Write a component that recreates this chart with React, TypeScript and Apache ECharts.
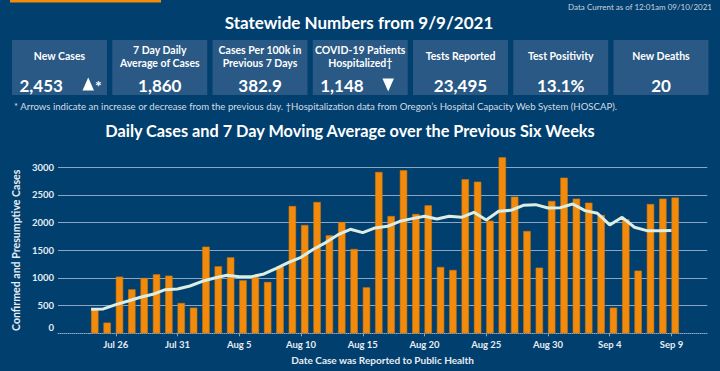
import React, { useEffect, useRef } from 'react';
import * as echarts from 'echarts';

const dates = [
  'Jul 24', 'Jul 25', 'Jul 26', 'Jul 27', 'Jul 28', 'Jul 29', 'Jul 30', 'Jul 31',
  'Aug 1', 'Aug 2', 'Aug 3', 'Aug 4', 'Aug 5', 'Aug 6', 'Aug 7', 'Aug 8', 'Aug 9', 'Aug 10',
  'Aug 11', 'Aug 12', 'Aug 13', 'Aug 14', 'Aug 15', 'Aug 16', 'Aug 17', 'Aug 18', 'Aug 19', 'Aug 20',
  'Aug 21', 'Aug 22', 'Aug 23', 'Aug 24', 'Aug 25', 'Aug 26', 'Aug 27', 'Aug 28', 'Aug 29', 'Aug 30', 'Aug 31',
  'Sep 1', 'Sep 2', 'Sep 3', 'Sep 4', 'Sep 5', 'Sep 6', 'Sep 7', 'Sep 8', 'Sep 9',
];

const dailyCases = [
  440, 193, 1024, 795, 1000, 1066, 1042, 548,
  464, 1566, 1211, 1373, 958, 1018, 928, 1205, 2301, 1958,
  2373, 1771, 2012, 1524, 831, 2916, 2120, 2946, 2157, 2313,
  1199, 1145, 2783, 2741, 2036, 3181, 2470, 1849, 1187, 2392, 2813,
  2434, 2361, 2139, 464, 2060, 1133, 2337, 2434, 2453,
];

const movingAvg = [
  434, 440, 518, 584, 651, 705, 789, 801,
  855, 940, 1000, 1048, 1024, 1024, 1072, 1175, 1283, 1373,
  1518, 1639, 1783, 1880, 1819, 1904, 1934, 2024, 2072, 2114,
  2066, 2114, 2096, 2187, 2048, 2205, 2223, 2313, 2325, 2265, 2271,
  2337, 2217, 2169, 1958, 2096, 1916, 1855, 1855, 1860,
];

const tickDates = ['Jul 26', 'Jul 31', 'Aug 5', 'Aug 10', 'Aug 15', 'Aug 20', 'Aug 25', 'Aug 30', 'Sep 4', 'Sep 9'];

const statTitles = [
  'New Cases',
  '7 Day Daily\nAverage of Cases',
  'Cases Per 100k in\nPrevious 7 Days',
  'COVID-19 Patients\nHospitalized†',
  'Tests Reported',
  'Test Positivity',
  'New Deaths',
];
const statValues = ['2,453', '1,860', '382.9', '1,148', '23,495', '13.1%', '20'];
const statTrends = ['up', '', '', 'down', '', '', ''];

const mainTitle = 'Statewide Numbers from 9/9/2021';
const dataCurrent = 'Data Current as of 12:01am 09/10/2021';
const footnote = '* Arrows indicate an increase or decrease from the previous day. †Hospitalization data from Oregon’s Hospital Capacity Web System (HOSCAP).';
const chartTitle = 'Daily Cases and 7 Day Moving Average over the Previous Six Weeks';
const yTitle = 'Confirmed and Presumptive Cases';
const xTitle = 'Date Case was Reported to Public Health';

const BG = '#013F6E';
const BOX = '#2A5985';
const ORANGE = '#F28B0C';
const FONT = 'Lato';
const LABEL = '#E6EDF4';

export default function App() {
  const ref = useRef<HTMLDivElement>(null);

  useEffect(() => {
    document.body.style.margin = '0';
    const chart = echarts.init(ref.current as HTMLDivElement, null, { renderer: 'svg' });

    const txt = (
      x: number, y: number, text: string, size: number, weight: string | number,
      fill: string, align = 'center', va = 'middle', lineHeight?: number,
    ) => ({
      type: 'text', x, y, silent: true,
      style: {
        text, fill, fontSize: size, fontWeight: weight, fontFamily: FONT,
        align, verticalAlign: va, textAlign: align, textVerticalAlign: va,
        lineHeight,
      },
    });

    const graphic: any[] = [];
    graphic.push({ type: 'rect', silent: true, shape: { x: 10, y: 0, width: 151, height: 2.4 }, style: { fill: ORANGE } });
    graphic.push(txt(712, 7, dataCurrent, 8, 'normal', '#C9D4DF', 'right'));
    graphic.push(txt(359, 22.5, mainTitle, 17, 'bold', '#FFFFFF'));

    statTitles.forEach((t, i) => {
      const bx = 12 + i * 100.25;
      graphic.push({ type: 'rect', silent: true, shape: { x: bx, y: 40, width: 95, height: 55 }, style: { fill: BOX } });
      graphic.push(txt(bx + 47.5, 56.3, t, 10.5, 'bold', '#FFFFFF', 'center', 'middle', 12.5));
      const trend = statTrends[i];
      if (trend) {
        graphic.push(txt(bx + 7.5, 85, statValues[i], 17, 'bold', '#FFFFFF', 'left'));
        if (trend === 'up') {
          graphic.push({ type: 'polygon', silent: true, shape: { points: [[bx + 70.5, 90.6], [bx + 82, 90.6], [bx + 76.25, 77.4]] }, style: { fill: '#FFFFFF' } });
          graphic.push(txt(bx + 83, 85, '*', 16, 'bold', '#FFFFFF', 'left'));
        } else {
          graphic.push({ type: 'polygon', silent: true, shape: { points: [[bx + 69.7, 78.4], [bx + 81.2, 78.4], [bx + 75.45, 91.6]] }, style: { fill: '#FFFFFF' } });
        }
      } else {
        graphic.push(txt(bx + 47.5, 85, statValues[i], 17, 'bold', '#FFFFFF'));
      }
    });

    graphic.push(txt(14, 106.5, footnote, 9.6, 'normal', '#D3DCE5', 'left'));
    graphic.push(txt(350, 130.5, chartTitle, 16.3, 'bold', '#FFFFFF'));

    const tickIdx = tickDates.map((d) => dates.indexOf(d));

    const option: any = {
      animation: false,
      backgroundColor: BG,
      grid: { left: 58, right: 12.7, top: 167.3, bottom: 37.7, containLabel: false },
      xAxis: {
        type: 'value',
        min: -2.68,
        max: 49.9,
        name: xTitle,
        nameLocation: 'middle',
        nameGap: 22,
        nameTextStyle: { color: LABEL, fontWeight: 'bold', fontSize: 10, fontFamily: FONT },
        axisLine: { show: true, lineStyle: { color: '#8FA6BE', type: 'dotted', width: 1 } },
        axisTick: { show: true, customValues: tickIdx, length: 3, lineStyle: { color: '#8FA6BE' } },
        axisLabel: {
          customValues: tickIdx,
          formatter: (v: number) => dates[Math.round(v)] ?? '',
          color: LABEL, fontWeight: 'bold', fontSize: 9.5, fontFamily: FONT, margin: 6,
        },
        splitLine: { show: false },
      },
      yAxis: {
        type: 'value',
        min: 0,
        max: 3000,
        interval: 500,
        name: yTitle,
        nameLocation: 'middle',
        nameRotate: 90,
        nameGap: 22,
        nameTextStyle: { color: LABEL, fontWeight: 'bold', fontSize: 10.6, fontFamily: FONT },
        axisLine: { show: false },
        axisTick: { show: true, length: 2.5, lineStyle: { color: '#8AA6C4' } },
        axisLabel: {
          color: LABEL, fontWeight: 'bold', fontSize: 9.5, fontFamily: FONT, margin: 4,
          formatter: (v: number) => (v === 0 ? '{z|0}' : String(v)),
          rich: { z: { color: LABEL, fontWeight: 'bold', fontSize: 9.5, fontFamily: FONT, padding: [0, 0, 12, 0] } },
        },
        splitLine: { show: true, showMinLine: false, lineStyle: { color: '#8AA6C4', width: 1.2 } },
      },
      series: [
        {
          type: 'bar',
          data: dailyCases.map((v, i) => [i + 0.3, v]),
          barWidth: 7.4,
          clip: false,
          itemStyle: { color: ORANGE, borderColor: '#D27606', borderWidth: 0.6 },
          z: 2,
        },
        {
          type: 'line',
          data: movingAvg.map((v, i) => [i, v]),
          symbol: 'none',
          clip: false,
          lineStyle: { color: '#DCEDE4', width: 3 },
          z: 3,
        },
      ],
      graphic,
    };

    chart.setOption(option);
    return () => chart.dispose();
  }, []);

  return (
    <div
      ref={ref}
      style={{ position: 'fixed', left: 0, top: 0, width: 720, height: 371, background: BG }}
    />
  );
}
